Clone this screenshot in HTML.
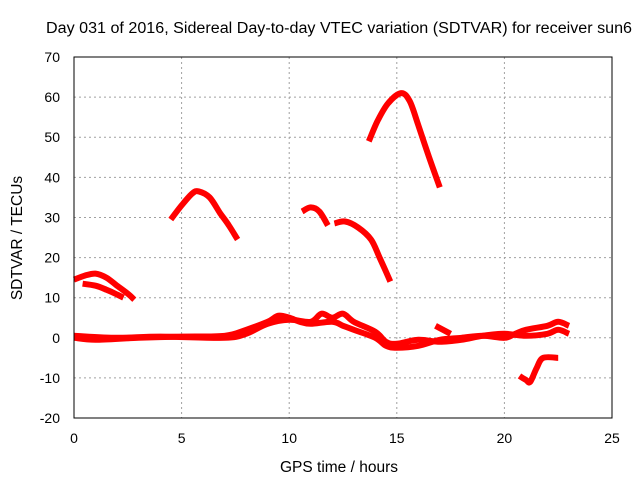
<!DOCTYPE html>
<html><head><meta charset="utf-8"><style>
html,body{margin:0;padding:0;background:#fff;}
svg{display:block;font-family:"Liberation Sans",sans-serif;}
</style></head><body>
<svg id="chart" width="640" height="480">
<text x="339" y="33" font-size="15.5" text-anchor="middle" textLength="586" lengthAdjust="spacingAndGlyphs">Day 031 of 2016, Sidereal Day-to-day VTEC variation (SDTVAR) for receiver sun6</text>
<text x="339" y="472" font-size="15.5" text-anchor="middle">GPS time / hours</text>
<text x="22" y="238" font-size="15.5" text-anchor="middle" transform="rotate(-90 22 238)">SDTVAR / TECUs</text>
<g id="grid"></g><g id="series"></g>
<rect x="74" y="57" width="538" height="361" fill="none" stroke="#000"/>
</svg>
<script>
const xTicks=[0,5,10,15,20,25];
const yTicks=[-20,-10,0,10,20,30,40,50,60,70];
const arcLeftUpper=[[0,14.5],[0.5,15.5],[1,16],[1.5,15],[2,13],[2.5,11],[2.8,9.5]];
const arcLeftLower=[[0.4,13.5],[1,13],[1.5,12],[2,10.8],[2.3,10]];
const arcSecond=[[4.5,29.5],[5,33],[5.5,36],[5.8,36.5],[6.3,35],[6.8,31],[7.2,28],[7.6,24.5]];
const arcThirdA=[[10.6,31.5],[11,32.5],[11.4,31.5],[11.8,28]];
const arcThirdB=[[12.1,28.5],[12.6,29],[13.2,27.5],[13.8,24.5],[14.2,20],[14.7,14]];
const arcFourth=[[13.7,49],[14.1,54],[14.6,58.5],[15.2,61],[15.6,59],[16,53],[16.5,45],[17,37.5]];
const baseMain=[[0,0],[1,-0.5],[3,0],[5,0.3],[7,0.5],[8,2],[9,4],[9.5,5.5],[10,5],[10.5,4],[11,3.5],[12,4],[12.5,3],[13,2],[14,0],[14.5,-2],[15,-2.5],[16,-2],[17,-0.5],[18,0],[19,0.5],[20,0],[20.5,1],[21,2],[22,3],[22.5,4],[23,3]];
const baseSecond=[[0,0.5],[2,0],[4,0.3],[7,0],[8,1],[9,3.5],[10,4.5],[11,4],[11.5,6],[12,5],[12.5,6],[13,4],[14,1.5],[14.5,-1],[15,-1.5],[16,-0.5],[17,-1],[18,-0.5],[19,0.5],[20,1],[21,0.5],[22,1],[22.5,2],[23,1]];
const spur=[[16.8,3],[17.5,1]];
const lowTrack=[[20.7,-9.5],[21,-10.5],[21.2,-11],[21.5,-7.5],[21.8,-5],[22.5,-5]];
const allSeries=[arcLeftUpper,arcLeftLower,arcSecond,arcThirdA,arcThirdB,arcFourth,baseMain,baseSecond,spur,lowTrack];
const NS="http://www.w3.org/2000/svg";
function xs(h){return 74+h*(538/25);}
function ys(v){return 337.8-v*(361/90);}
const grid=document.getElementById('grid');
xTicks.forEach(t=>{
  const x=xs(t);
  if(t>0&&t<25){const l=document.createElementNS(NS,'line');
  
  
  l.setAttribute('x1',x);l.setAttribute('x2',x);l.setAttribute('y1',57);l.setAttribute('y2',418);
  l.setAttribute('stroke','#a0a0a0');l.setAttribute('stroke-dasharray','2,3');grid.appendChild(l);}
  const tx=document.createElementNS(NS,'text');
  
  
  tx.setAttribute('x',x);tx.setAttribute('y',443);tx.setAttribute('font-size','14');tx.setAttribute('text-anchor','middle');
  tx.textContent=t;grid.appendChild(tx);
});
yTicks.forEach(t=>{
  const y=ys(t);
  if(t>-20&&t<70){const l=document.createElementNS(NS,'line');
  
  
  l.setAttribute('x1',74);l.setAttribute('x2',612);l.setAttribute('y1',y);l.setAttribute('y2',y);
  l.setAttribute('stroke','#a0a0a0');l.setAttribute('stroke-dasharray','2,3');grid.appendChild(l);}
  const tx=document.createElementNS(NS,'text');
  
  
  tx.setAttribute('x',60);tx.setAttribute('y',y+5);tx.setAttribute('font-size','14');tx.setAttribute('text-anchor','end');
  tx.textContent=t;grid.appendChild(tx);
});
function smoothPath(pts){
  const P=pts.map(d=>[xs(d[0]),ys(d[1])]);
  let s='M'+P[0][0].toFixed(1)+','+P[0][1].toFixed(1);
  for(let i=0;i<P.length-1;i++){
    const p0=P[i-1]||P[i],p1=P[i],p2=P[i+1],p3=P[i+2]||P[i+1];
    const c1=[p1[0]+(p2[0]-p0[0])/6,p1[1]+(p2[1]-p0[1])/6];
    const c2=[p2[0]-(p3[0]-p1[0])/6,p2[1]-(p3[1]-p1[1])/6];
    s+=' C'+c1.map(v=>v.toFixed(1)).join(',')+' '+c2.map(v=>v.toFixed(1)).join(',')+' '+p2.map(v=>v.toFixed(1)).join(',');
  }
  return s;
}
const sg=document.getElementById('series');
allSeries.forEach(s=>{
  const p=document.createElementNS(NS,'path');
  
  
  p.setAttribute('d',smoothPath(s));
  p.setAttribute('fill','none');p.setAttribute('stroke','#ff0000');p.setAttribute('stroke-width','6');
  p.setAttribute('stroke-linejoin','round');
  sg.appendChild(p);
});
</script>
</body></html>
